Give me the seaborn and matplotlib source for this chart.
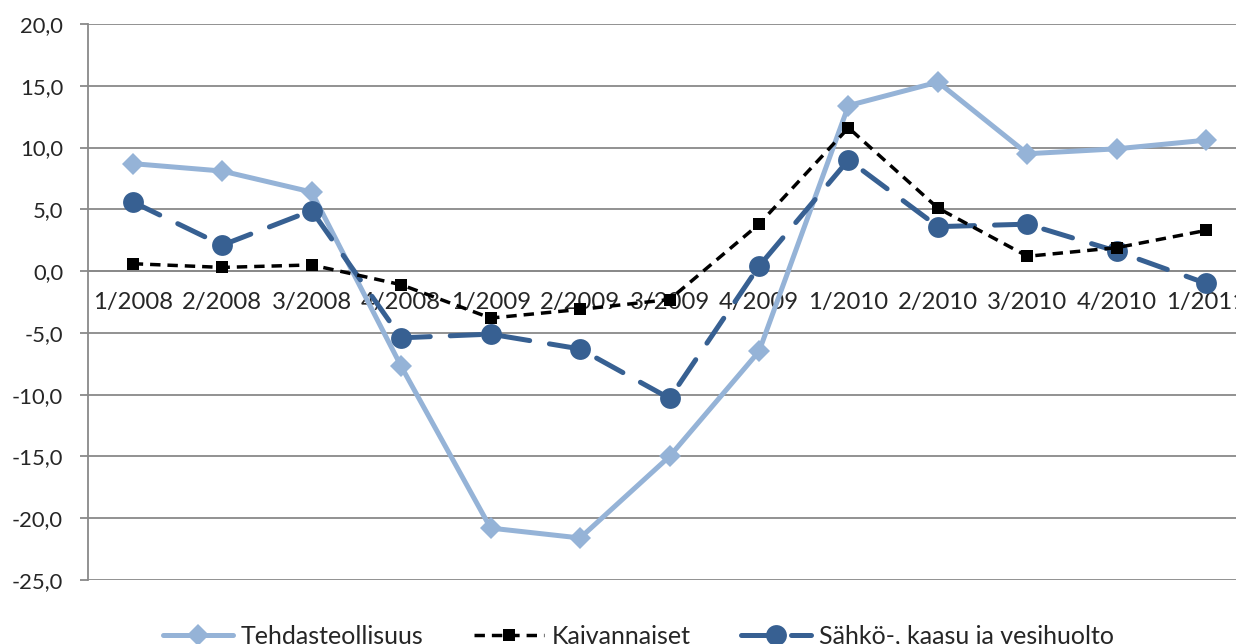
import numpy as np
import pandas as pd
import matplotlib
matplotlib.use('Agg')
import matplotlib.pyplot as plt
import seaborn as sns
from matplotlib.ticker import FixedLocator

# Data
quarters = ['1/2008', '2/2008', '3/2008', '4/2008', '1/2009', '2/2009', '3/2009',
            '4/2009', '1/2010', '2/2010', '3/2010', '4/2010', '1/2011']
tehdas = [8.7, 8.1, 6.4, -7.7, -20.8, -21.6, -15.0, -6.5, 13.4, 15.3, 9.5, 9.9, 10.6]
kaivannaiset = [0.6, 0.3, 0.5, -1.1, -3.8, -3.1, -2.3, 3.8, 11.6, 5.1, 1.2, 1.9, 3.3]
sahko = [5.6, 2.1, 4.9, -5.4, -5.1, -6.3, -10.3, 0.4, 9.0, 3.6, 3.8, 1.6, -1.0]
yticks = [20, 15, 10, 5, 0, -5, -10, -15, -20, -25]

df = pd.DataFrame({'quarter': quarters, 'Tehdasteollisuus': tehdas,
                   'Kaivannaiset': kaivannaiset,
                   'Sähkö-, kaasu ja vesihuolto': sahko})

sns.set_style('white')
plt.rcParams['font.family'] = ['Lato', 'DejaVu Sans']

fig = plt.figure(figsize=(12.36, 6.44), dpi=100)
ax = fig.add_axes([0.0712, 0.0994, 0.941, 0.8633])

grid_col = '#898989'

sns.lineplot(data=df, x='quarter', y='Tehdasteollisuus', ax=ax, sort=False,
             color='#95B3D7', lw=3.6, marker='D', markersize=11,
             markeredgewidth=0, label='Tehdasteollisuus', zorder=3)
sns.lineplot(data=df, x='quarter', y='Kaivannaiset', ax=ax, sort=False,
             color='black', lw=2.5, marker='s', markersize=8.5,
             markeredgewidth=0, label='Kaivannaiset', zorder=5,
             linestyle=(0, (3, 2)))
sns.lineplot(data=df, x='quarter', y='Sähkö-, kaasu ja vesihuolto', ax=ax, sort=False,
             color='#376092', lw=3.6, marker='o', markersize=15,
             markeredgewidth=0, label='Sähkö-, kaasu ja vesihuolto', zorder=4,
             linestyle=(0, (6, 4)), dash_capstyle='round')

ax.set_xlim(-0.5, len(quarters) - 0.5)
ax.set_ylim(-25, 20)
ax.set_yticks(yticks)
ax.set_yticklabels([f'{v:.1f}'.replace('.', ',') for v in yticks])
ax.set_xlabel('')
ax.set_ylabel('')

ax.yaxis.grid(True, color=grid_col, lw=1.3)
ax.set_axisbelow(True)
for s in ['top', 'right']:
    ax.spines[s].set_visible(False)
ax.spines['left'].set_color(grid_col)
ax.spines['left'].set_linewidth(1.3)
ax.spines['bottom'].set_position(('data', 0))
ax.spines['bottom'].set_color(grid_col)
ax.spines['bottom'].set_linewidth(1.3)

ax.xaxis.set_minor_locator(FixedLocator(np.arange(-0.5, len(quarters), 1.0)))
ax.tick_params(axis='x', which='major', length=0, pad=15, labelsize=17.2)
ax.tick_params(axis='x', which='minor', length=6, width=1.3, color=grid_col, direction='out')
ax.tick_params(axis='y', length=6, width=1.3, color=grid_col, direction='out',
               labelsize=15.8, pad=12, left=True)

leg = ax.legend(loc='center', bbox_to_anchor=(0.5165, 0.0124),
                bbox_transform=fig.transFigure, ncol=3, frameon=False,
                fontsize=18, handlelength=2.8, columnspacing=2.0,
                handletextpad=0.32)

fig.savefig('out.png', dpi=100)
